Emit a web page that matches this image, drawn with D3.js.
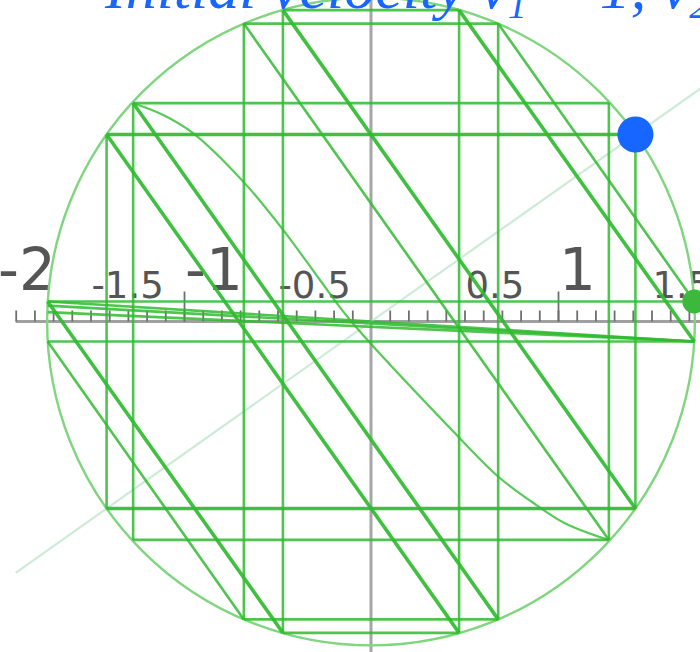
<!DOCTYPE html>
<html><head><meta charset="utf-8">
<script src="https://cdn.jsdelivr.net/npm/d3@7"></script>
<style>html,body{margin:0;padding:0;background:#fff;overflow:hidden}</style>
</head><body><svg id="chart" width="700" height="652"></svg>
<script>
// ---------- data (plot units) ----------
const circleRadius = Math.sqrt(3);
const startPoint = [1.414, 1.0];
const endPoint = [1.729, 0.107];
const radialLine = [[-1.9, -1.344], [2.2, 1.556]];

// heavy trajectory segments [x1, y1, x2, y2]
const heavySegments = [
  [-1.414, 1.0, 1.414, 1.0],
  [-1.414, -1.0, 1.414, -1.0],
  [-1.414, 1.0, 0.471, -1.665],
  [-0.471, 1.665, 1.414, -1.0],
  [-1.272, 1.168, 0.680, -1.593],
  [-1.729, 0.107, -0.471, -1.665],
  [0.471, 1.665, 1.729, -0.107]
];
// light trajectory segments [x1, y1, x2, y2]
const lightSegments = [
  [-0.471, 1.665, 0.471, 1.665],
  [-0.680, 1.593, 0.680, 1.593],
  [-1.272, 1.168, 1.272, 1.168],
  [-1.729, 0.107, 1.729, 0.107],
  [-1.729, -0.107, 1.729, -0.107],
  [-1.272, -1.168, 1.272, -1.168],
  [-0.680, -1.593, 0.680, -1.593],
  [-0.471, -1.665, 0.471, -1.665],
  [-1.414, 1.0, -1.414, -1.0],
  [-1.272, 1.168, -1.272, -1.168],
  [-0.680, 1.593, -0.680, -1.593],
  [-0.471, 1.665, -0.471, -1.665],
  [0.471, 1.665, 0.471, -1.665],
  [0.680, 1.593, 0.680, -1.593],
  [1.272, 1.168, 1.272, -1.168],
  [1.414, 1.0, 1.414, -1.0],
  [-0.680, 1.593, 1.272, -1.168],
  [-1.729, -0.107, -0.680, -1.593],
  [0.680, 1.593, 1.729, 0.107],
  [-1.729, 0.107, 1.729, -0.107],
  [-1.729, 0.085, 1.729, -0.107],
  [-1.729, 0.050, 1.729, -0.107]
];
// curved part of the trajectory [x, y]
const curvePoints = [
  [-1.271, 1.167], [-1.111, 1.104], [-0.950, 1.006], [-0.683, 0.748],
  [-0.469, 0.489], [-0.273, 0.222], [-0.112, 0.008], [0.467, -0.616],
  [0.681, -0.830], [0.859, -0.964], [1.037, -1.079], [1.269, -1.168]
];
// axis
const majorTickValues = [-1, 1];
const minorTickValues = [-1.9,-1.8,-1.7,-1.6,-1.5,-1.4,-1.3,-1.2,-1.1,-1.0,-0.9,-0.8,-0.7,-0.6,-0.5,-0.4,-0.3,-0.2,-0.1,
  0.1,0.2,0.3,0.4,0.5,0.6,0.7,0.8,0.9,1.0,1.1,1.2,1.3,1.4,1.5,1.6,1.7,1.8,1.9];
const bigLabelValues = [-2, -1, 1];
const bigLabelTexts = ["-2", "-1", "1"];
const smallLabelValues = [-1.5, -0.5, 0.5, 1.5];
const smallLabelTexts = ["-1.5", "-0.5", "0.5", "1.5"];
const axisExtent = [-1.9, 2.0];

// ---------- scales ----------
const x = d3.scaleLinear().domain([-1, 1]).range([184, 558]);
const y = d3.scaleLinear().domain([-1, 1]).range([508.5, 134.5]);

const svg = d3.select("#chart");

// y axis (gray vertical)
svg.append("line")
  .attr("x1", x(0)).attr("x2", x(0))
  .attr("y1", y(y.invert(0))).attr("y2", y(y.invert(652)))
  .attr("stroke", "#a6a6a6").attr("stroke-width", 3);

// x axis line
svg.append("line")
  .attr("x1", x(axisExtent[0])).attr("x2", x(axisExtent[1]))
  .attr("y1", y(0)).attr("y2", y(0))
  .attr("stroke", "#a0a0a0").attr("stroke-width", 3);

const minorAxis = d3.axisTop(x).tickValues(minorTickValues).tickSize(11).tickFormat("");
const majorAxis = d3.axisTop(x).tickValues(majorTickValues).tickSize(30).tickFormat("");
[minorAxis, majorAxis].forEach(ax => {
  const g = svg.append("g").attr("transform", `translate(0,${y(0)})`).call(ax);
  g.select(".domain").remove();
  g.selectAll(".tick line").attr("stroke", "#6f6f6f").attr("stroke-width", 1.8);
});

// tick labels
svg.append("g").selectAll("text").data(bigLabelValues).join("text")
  .attr("x", d => x(d) + 1).attr("y", 290)
  .attr("font-family", "DejaVu Sans, sans-serif").attr("font-size", 58)
  .attr("fill", "#555").text((d, i) => bigLabelTexts[i]);
svg.append("g").selectAll("text").data(smallLabelValues).join("text")
  .attr("x", d => x(d) + 1).attr("y", 298)
  .attr("font-family", "DejaVu Sans, sans-serif").attr("font-size", 37)
  .attr("fill", "#555").text((d, i) => smallLabelTexts[i]);

// faint radial line
svg.append("line")
  .attr("x1", x(radialLine[0][0])).attr("y1", y(radialLine[0][1]))
  .attr("x2", x(radialLine[1][0])).attr("y2", y(radialLine[1][1]))
  .attr("stroke", "#cdebd6").attr("stroke-width", 2.2);

// boundary circle
svg.append("ellipse")
  .attr("cx", x(0)).attr("cy", y(0))
  .attr("rx", x(circleRadius) - x(0)).attr("ry", y(0) - y(circleRadius))
  .attr("fill", "none").attr("stroke", "#7fd67f").attr("stroke-width", 2.4);

const green = "#30bb30";
svg.append("g").selectAll("line").data(lightSegments).join("line")
  .attr("x1", d => x(d[0])).attr("y1", d => y(d[1]))
  .attr("x2", d => x(d[2])).attr("y2", d => y(d[3]))
  .attr("stroke", green).attr("stroke-opacity", 0.85).attr("stroke-width", 2.6);

svg.append("path").datum(curvePoints)
  .attr("d", d3.line().x(d => x(d[0])).y(d => y(d[1])).curve(d3.curveCatmullRom))
  .attr("fill", "none").attr("stroke", green).attr("stroke-opacity", 0.8).attr("stroke-width", 2.2);

svg.append("g").selectAll("line").data(heavySegments).join("line")
  .attr("x1", d => x(d[0])).attr("y1", d => y(d[1]))
  .attr("x2", d => x(d[2])).attr("y2", d => y(d[3]))
  .attr("stroke", green).attr("stroke-opacity", 0.92).attr("stroke-width", 3.6);

// end & start points
svg.append("circle").attr("cx", x(endPoint[0])).attr("cy", y(endPoint[1]))
  .attr("r", 12).attr("fill", "#3cb93c");
svg.append("circle").attr("cx", x(startPoint[0])).attr("cy", y(startPoint[1]))
  .attr("r", 18).attr("fill", "#1766ff");

// title (cut off at the top, as in the reference)
const title = svg.append("text")
  .attr("x", 105).attr("y", 8)
  .attr("font-family", "Liberation Serif, serif").attr("font-style", "italic")
  .attr("font-size", 62).attr("fill", "#1766ff");
title.append("tspan").text("Initial velocity v");
title.append("tspan").attr("font-size", 38).attr("dy", 10).text("1");
title.append("tspan").attr("dy", -10).text(" = 1, v");
title.append("tspan").attr("font-size", 38).attr("dy", 10).text("2");
title.append("tspan").attr("dy", -10).text(" = √2");
</script></body></html>
